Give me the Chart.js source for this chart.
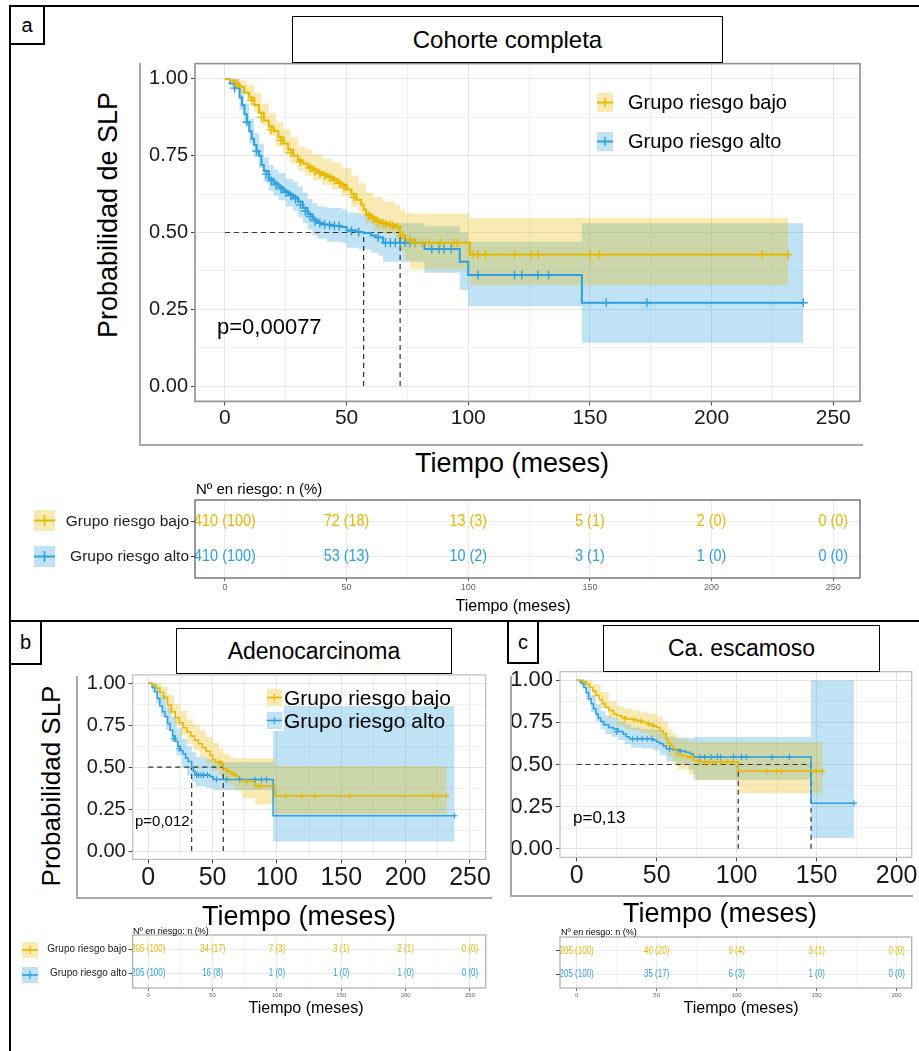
<!DOCTYPE html>
<html>
<head>
<meta charset="utf-8">
<script src="https://cdn.jsdelivr.net/npm/chart.js@4.4.1/dist/chart.umd.min.js"></script>
<style>
body { margin:0; background:#fff; font-family:"Liberation Sans", Arial, sans-serif; }
#fig { position:relative; width:919px; height:1051px; overflow:hidden; background:#fff; }
#fig canvas { position:absolute; }
.ln { position:absolute; background:#000; }
.gl { position:absolute; background:#a8a8a8; }
.box { position:absolute; box-sizing:border-box; border:1.5px solid #000; background:#fff;
       display:flex; align-items:center; justify-content:center; color:#000; white-space:nowrap; }
.txt { position:absolute; white-space:nowrap; color:#000; line-height:1; }
.mid { transform:translate(-50%,-50%); }
.vmid { transform:translateY(-50%); }
.rot { transform:translate(-50%,-50%) rotate(-90deg); }
.key { position:absolute; }
</style>
</head>
<body>
<div id="fig">
  <canvas id="kmA" width="730" height="395" style="left:140px;top:45px"></canvas>
  <canvas id="rtA" width="860" height="115" style="left:20px;top:485px"></canvas>
  <canvas id="kmB" width="415" height="237" style="left:80px;top:656px"></canvas>
  <canvas id="rtB" width="485" height="82" style="left:10px;top:920px"></canvas>
  <canvas id="kmC" width="417" height="240" style="left:505px;top:653px"></canvas>
  <canvas id="rtC" width="397" height="80" style="left:520px;top:922px"></canvas>

  <!-- figure frame -->
  <div class="ln" style="left:9px;top:5px;width:910px;height:2px"></div>
  <div class="ln" style="left:9px;top:5px;width:2px;height:1046px"></div>
  <div class="ln" style="left:9px;top:620px;width:910px;height:2px"></div>

  <!-- grey picture frames -->
  <div class="gl" style="left:139px;top:63px;width:2px;height:383px"></div>
  <div class="gl" style="left:139px;top:444px;width:724px;height:2px"></div>
  <div class="gl" style="left:76px;top:676px;width:2px;height:222px"></div>
  <div class="gl" style="left:76px;top:897px;width:416px;height:2px"></div>
  <div class="gl" style="left:510px;top:676px;width:2px;height:220px"></div>
  <div class="gl" style="left:510px;top:895px;width:403px;height:2px"></div>

  <!-- panel a -->
  <div class="box" style="left:9px;top:5px;width:36px;height:40px;border-width:2px;font-size:20px">a</div>
  <div class="box" style="left:292px;top:16px;width:431px;height:47px;font-size:24px">Cohorte completa</div>
  <div class="txt rot" style="left:108px;top:215px;font-size:27px">Probabilidad de SLP</div>
  <div class="txt mid" style="left:512px;top:463px;font-size:27px">Tiempo (meses)</div>
  <div class="txt vmid" style="left:217px;top:327px;font-size:22px">p=0,00077</div>
  <svg class="key" style="left:597px;top:93px" width="16" height="19"><rect width="16" height="19" fill="rgba(231,184,0,0.3)"/><line x1="0" y1="9.5" x2="16" y2="9.5" stroke="#E7B800" stroke-width="2"/><line x1="8" y1="5" x2="8" y2="14" stroke="#E7B800" stroke-width="1.5"/></svg>
  <svg class="key" style="left:597px;top:132px" width="16" height="19"><rect width="16" height="19" fill="rgba(46,159,223,0.3)"/><line x1="0" y1="9.5" x2="16" y2="9.5" stroke="#2E9FDF" stroke-width="2"/><line x1="8" y1="5" x2="8" y2="14" stroke="#2E9FDF" stroke-width="1.5"/></svg>
  <div class="txt vmid" style="left:628px;top:102px;font-size:20px">Grupo riesgo bajo</div>
  <div class="txt vmid" style="left:628px;top:141px;font-size:20px">Grupo riesgo alto</div>
  <div class="txt vmid" style="left:196px;top:488px;font-size:15px">Nº en riesgo: n (%)</div>
  <svg class="key" style="left:34px;top:510px" width="21" height="21"><rect width="21" height="21" fill="rgba(231,184,0,0.3)"/><line x1="0" y1="10.5" x2="21" y2="10.5" stroke="#E7B800" stroke-width="2"/><line x1="10.5" y1="5" x2="10.5" y2="16" stroke="#E7B800" stroke-width="1.5"/></svg>
  <svg class="key" style="left:34px;top:546px" width="21" height="21"><rect width="21" height="21" fill="rgba(46,159,223,0.3)"/><line x1="0" y1="10.5" x2="21" y2="10.5" stroke="#2E9FDF" stroke-width="2"/><line x1="10.5" y1="5" x2="10.5" y2="16" stroke="#2E9FDF" stroke-width="1.5"/></svg>
  <div class="txt mid" style="left:513px;top:606px;font-size:16px">Tiempo (meses)</div>

  <!-- panel b -->
  <div class="box" style="left:9px;top:620px;width:33px;height:45px;border-width:2px;font-size:20px">b</div>
  <div class="box" style="left:176px;top:628px;width:276px;height:46px;font-size:23px">Adenocarcinoma</div>
  <div class="txt rot" style="left:51px;top:786px;font-size:26px">Probabilidad SLP</div>
  <div class="txt mid" style="left:299px;top:916px;font-size:27px">Tiempo (meses)</div>
  <div class="txt vmid" style="left:135px;top:820px;font-size:15px">p=0,012</div>
  <div style="position:absolute;left:265px;top:687px;width:19px;height:44px;background:#fff"></div>
  <svg class="key" style="left:267px;top:689px" width="15" height="17"><rect width="15" height="17" fill="rgba(231,184,0,0.3)"/><line x1="0" y1="8.5" x2="15" y2="8.5" stroke="#E7B800" stroke-width="1.6"/><line x1="7.5" y1="5" x2="7.5" y2="12" stroke="#E7B800" stroke-width="1.2"/></svg>
  <svg class="key" style="left:267px;top:712px" width="15" height="17"><rect width="15" height="17" fill="rgba(46,159,223,0.3)"/><line x1="0" y1="8.5" x2="15" y2="8.5" stroke="#2E9FDF" stroke-width="1.6"/><line x1="7.5" y1="5" x2="7.5" y2="12" stroke="#2E9FDF" stroke-width="1.2"/></svg>
  <div class="txt vmid" style="left:284px;top:697px;font-size:21px">Grupo riesgo bajo</div>
  <div class="txt vmid" style="left:284px;top:720px;font-size:21px">Grupo riesgo alto</div>
  <div class="txt vmid" style="left:133px;top:931px;font-size:9px">Nº en riesgo: n (%)</div>
  <svg class="key" style="left:22px;top:942px" width="16" height="16"><rect width="16" height="16" fill="rgba(231,184,0,0.3)"/><line x1="0" y1="8" x2="16" y2="8" stroke="#E7B800" stroke-width="1.6"/><line x1="8" y1="4" x2="8" y2="12" stroke="#E7B800" stroke-width="1.2"/></svg>
  <svg class="key" style="left:22px;top:967px" width="16" height="16"><rect width="16" height="16" fill="rgba(46,159,223,0.3)"/><line x1="0" y1="8" x2="16" y2="8" stroke="#2E9FDF" stroke-width="1.6"/><line x1="8" y1="4" x2="8" y2="12" stroke="#2E9FDF" stroke-width="1.2"/></svg>
  <div class="txt mid" style="left:306px;top:1008px;font-size:16px">Tiempo (meses)</div>

  <!-- panel c -->
  <div class="box" style="left:507px;top:620px;width:32px;height:44px;border-width:2px;font-size:20px">c</div>
  <div class="box" style="left:603px;top:625px;width:277px;height:47px;font-size:23px">Ca. escamoso</div>
  <div class="txt mid" style="left:720px;top:913px;font-size:27px">Tiempo (meses)</div>
  <div class="txt vmid" style="left:573px;top:817px;font-size:17px">p=0,13</div>
  <div class="txt vmid" style="left:561px;top:932px;font-size:9px">Nº en riesgo: n (%)</div>
  <div class="txt mid" style="left:741px;top:1008px;font-size:16px">Tiempo (meses)</div>
</div>

<script>
// colours (survminer default pair)
const GOLD = '#E7B800', BLUE = '#2E9FDF';
const GOLD_F = 'rgba(231,184,0,0.3)', BLUE_F = 'rgba(46,159,223,0.3)';
const FONT = '"Liberation Sans", Arial, sans-serif';

// axes
const xTicksA = [0, 50, 100, 150, 200, 250];
const xGridA = [0, 25, 50, 75, 100, 125, 150, 175, 200, 225, 250];
const xTicksC = [0, 50, 100, 150, 200];
const xGridC = [0, 25, 50, 75, 100, 125, 150, 175, 200];
const yTicks = [0, 0.25, 0.5, 0.75, 1];
const yGrid = [0, 0.125, 0.25, 0.375, 0.5, 0.625, 0.75, 0.875, 1];
const groups = ['Grupo riesgo bajo', 'Grupo riesgo alto'];

// ---- a: Cohorte completa  (curve [t, S], band [t, low, high], censored [t, S])
const aBajo = [[0,1],[2,0.995],[4,0.985],[6,0.975],[8,0.955],[10,0.94],[12,0.915],[14,0.89],[16,0.865],[18,0.845],[20,0.83],[22,0.81],[24,0.79],[26,0.77],[28,0.75],[30,0.735],[32,0.725],[34,0.715],[36,0.705],[38,0.697],[40,0.69],[42,0.683],[44,0.675],[46,0.665],[48,0.655],[50,0.64],[52,0.625],[54,0.607],[56,0.59],[57,0.575],[58,0.56],[60,0.55],[62,0.538],[64,0.532],[67,0.525],[70,0.518],[72,0.49],[74,0.476],[78,0.467],[100.7,0.428],[231.5,0.428]];
const aBajoBand = [[0,1,1],[3,0.985,1],[6,0.955,0.995],[9,0.93,0.98],[12,0.89,0.955],[15,0.85,0.92],[18,0.815,0.89],[21,0.78,0.86],[24,0.755,0.835],[27,0.725,0.81],[30,0.7,0.78],[33,0.685,0.77],[36,0.67,0.755],[40,0.655,0.74],[44,0.64,0.728],[48,0.62,0.71],[52,0.585,0.685],[55,0.56,0.66],[58,0.53,0.63],[61,0.505,0.615],[65,0.495,0.6],[70,0.47,0.59],[72,0.44,0.575],[74,0.41,0.565],[76,0.38,0.562],[100.7,0.329,0.547],[231.5,0.329,0.547]];
const aBajoCens = [[5,0.98],[11,0.93],[15,0.875],[19,0.835],[23,0.8],[27,0.76],[31,0.73],[35,0.71],[37,0.7],[39,0.693],[41,0.686],[43,0.68],[45,0.67],[47,0.66],[49,0.648],[53,0.615],[59,0.555],[61,0.545],[63,0.535],[65,0.53],[66,0.528],[68,0.525],[69,0.522],[71,0.518],[73,0.49],[76,0.476],[78,0.467],[81,0.467],[84,0.467],[88.5,0.467],[94,0.467],[95.5,0.467],[102,0.428],[104,0.428],[107,0.428],[119,0.428],[126,0.428],[128.7,0.428],[150,0.428],[153.8,0.428],[220.7,0.428],[231.5,0.428]];
const aAlto = [[0,1],[2,0.985],[4,0.97],[6,0.94],[7,0.915],[8,0.885],[9,0.86],[10,0.83],[11,0.805],[12,0.785],[13,0.765],[14,0.75],[15,0.72],[16,0.7],[18,0.675],[20,0.66],[22,0.648],[24,0.635],[26,0.625],[28,0.615],[30,0.6],[32,0.58],[34,0.56],[36,0.543],[38,0.532],[40,0.526],[44,0.522],[48,0.518],[50,0.507],[54,0.502],[57,0.498],[60,0.49],[62,0.484],[65,0.467],[82,0.446],[96.5,0.405],[100,0.362],[146.7,0.271],[237.7,0.271]];
const aAltoBand = [[0,1,1],[3,0.97,1],[6,0.9,0.97],[8,0.85,0.92],[10,0.79,0.87],[12,0.745,0.825],[14,0.71,0.79],[16,0.665,0.745],[18,0.635,0.72],[20,0.62,0.705],[22,0.605,0.693],[25,0.585,0.675],[28,0.57,0.665],[30,0.55,0.65],[32,0.53,0.63],[34,0.51,0.61],[36,0.49,0.595],[38,0.48,0.585],[42,0.47,0.58],[48,0.465,0.575],[50,0.45,0.565],[55,0.445,0.56],[60,0.435,0.55],[63,0.425,0.545],[65,0.405,0.53],[82,0.369,0.52],[96.5,0.313,0.5],[100,0.26,0.47],[146.7,0.141,0.53],[237.7,0.141,0.53]];
const aAltoCens = [[4,0.97],[9,0.86],[13,0.765],[17,0.69],[19,0.668],[21,0.655],[23,0.642],[25,0.63],[27,0.62],[29,0.61],[31,0.59],[33,0.57],[35,0.552],[37,0.537],[39,0.53],[41,0.526],[43,0.524],[45,0.522],[47,0.52],[52,0.505],[55,0.502],[63,0.484],[66,0.467],[68,0.467],[70,0.467],[72,0.467],[74,0.467],[76,0.467],[78,0.467],[85,0.446],[88,0.446],[90,0.446],[93,0.446],[104,0.362],[119,0.362],[122,0.362],[128.6,0.362],[133,0.362],[156.7,0.271],[173.4,0.271],[237.7,0.271]];
const aMedian = [72, 57];
const riskTimesA = [0, 50, 100, 150, 200, 250];
const riskA = [['410 (100)','72 (18)','13 (3)','5 (1)','2 (0)','0 (0)'], ['410 (100)','53 (13)','10 (2)','3 (1)','1 (0)','0 (0)']];

// ---- b: Adenocarcinoma
const bBajo = [[0,1],[3,0.99],[6,0.97],[9,0.945],[12,0.915],[15,0.87],[18,0.83],[21,0.795],[24,0.765],[27,0.735],[30,0.71],[33,0.685],[36,0.66],[39,0.64],[42,0.615],[45,0.595],[48,0.57],[50,0.545],[52,0.532],[57,0.523],[58.3,0.49],[61,0.475],[64,0.46],[67,0.45],[70,0.43],[73,0.415],[83,0.388],[98.4,0.33],[231.8,0.33]];
const bBajoBand = [[0,1,1],[5,0.96,1],[10,0.9,0.98],[15,0.82,0.93],[20,0.75,0.88],[25,0.69,0.835],[30,0.64,0.785],[35,0.6,0.75],[40,0.56,0.72],[45,0.52,0.68],[50,0.48,0.645],[55,0.45,0.61],[58.3,0.41,0.58],[63,0.39,0.56],[67,0.36,0.553],[73,0.314,0.553],[83,0.278,0.553],[98.4,0.22,0.507],[231.8,0.22,0.507]];
const bBajoCens = [[55,0.532],[56.5,0.523],[62,0.475],[66,0.46],[68,0.45],[77,0.415],[85,0.388],[87,0.388],[107,0.33],[119,0.33],[129.5,0.33],[156.7,0.33],[221,0.33],[231.8,0.33]];
const bAlto = [[0,1],[3,0.975],[5,0.95],[7,0.91],[9,0.865],[11,0.83],[13,0.8],[15,0.76],[17,0.72],[19,0.685],[21,0.655],[23,0.625],[25,0.6],[27,0.58],[29,0.555],[31,0.533],[33.7,0.5],[35,0.475],[36.3,0.453],[48,0.443],[50.5,0.427],[97,0.21],[238,0.21]];
const bAltoBand = [[0,1,1],[3,0.95,1],[6,0.88,0.98],[10,0.8,0.93],[14,0.72,0.86],[18,0.65,0.8],[22,0.57,0.73],[26,0.5,0.67],[30,0.45,0.625],[34,0.41,0.59],[37,0.385,0.56],[45,0.375,0.55],[50.5,0.364,0.53],[97,0.056,0.865],[238,0.056,0.865]];
const bAltoCens = [[20,0.67],[24,0.61],[37.5,0.453],[39,0.453],[41,0.453],[43,0.453],[46,0.453],[53,0.427],[61,0.427],[71,0.427],[83,0.427],[88,0.427],[92,0.427],[238,0.21]];
const bMedian = [58.3, 33.7];
const riskB = [['205 (100)','34 (17)','7 (3)','3 (1)','2 (1)','0 (0)'], ['205 (100)','16 (8)','1 (0)','1 (0)','1 (0)','0 (0)']];

// ---- c: Ca. escamoso
const cBajo = [[0,1],[4,0.99],[6,0.975],[8,0.96],[10,0.935],[12,0.91],[14,0.885],[16,0.86],[18,0.84],[20,0.82],[23,0.8],[25,0.79],[28,0.78],[31,0.77],[35,0.765],[38,0.758],[41,0.75],[44,0.74],[47,0.73],[50,0.72],[52,0.7],[54,0.683],[56,0.65],[57.3,0.624],[59,0.61],[60.4,0.594],[62.5,0.554],[68.8,0.545],[73,0.525],[77,0.515],[101,0.461],[153.7,0.461]];
const cBajoBand = [[0,1,1],[5,0.97,1],[10,0.9,0.975],[15,0.83,0.93],[20,0.77,0.875],[25,0.73,0.845],[30,0.71,0.83],[35,0.7,0.82],[40,0.685,0.81],[45,0.665,0.8],[50,0.645,0.785],[54,0.6,0.755],[57,0.55,0.71],[60,0.51,0.68],[63,0.47,0.65],[70,0.44,0.64],[75,0.406,0.634],[101,0.33,0.634],[153.7,0.33,0.634]];
const cBajoCens = [[30,0.77],[36,0.765],[40,0.758],[45,0.74],[48,0.73],[66,0.554],[71,0.545],[77,0.515],[80,0.515],[83,0.515],[86,0.515],[90,0.515],[94,0.515],[98,0.515],[118.75,0.461],[125,0.461],[128,0.461],[149.6,0.461],[153.7,0.461]];
const cAlto = [[0,1],[2,0.99],[3,0.98],[4.5,0.955],[6,0.925],[7.5,0.89],[9,0.86],[10.5,0.83],[12,0.8],[13.5,0.775],[15,0.755],[17,0.735],[20,0.72],[23,0.71],[26,0.695],[29,0.68],[31,0.665],[33,0.653],[48,0.644],[50,0.634],[52,0.624],[54,0.61],[56,0.594],[60,0.587],[64.6,0.58],[68,0.572],[70.8,0.564],[73,0.545],[146.5,0.271],[173.3,0.271]];
const cAltoBand = [[0,1,1],[3,0.96,1],[6,0.88,0.97],[9,0.81,0.91],[12,0.755,0.86],[15,0.71,0.815],[18,0.68,0.79],[22,0.665,0.775],[26,0.645,0.755],[30,0.62,0.74],[34,0.6,0.72],[40,0.595,0.71],[48,0.585,0.705],[52,0.555,0.69],[56,0.52,0.665],[62,0.5,0.66],[70,0.47,0.655],[73,0.41,0.663],[146.5,0.065,1],[173.3,0.065,1]];
const cAltoCens = [[25,0.695],[35,0.653],[38,0.653],[41,0.653],[44,0.653],[47,0.653],[58,0.594],[64.6,0.58],[77,0.545],[80,0.545],[84,0.545],[88,0.545],[90,0.545],[98,0.545],[103,0.545],[106,0.545],[122,0.545],[133,0.545],[173.3,0.271]];
const cMedian = [101, 146.5];
const riskTimesC = [0, 50, 100, 150, 200];
const riskC = [['205 (100)','40 (20)','9 (4)','3 (1)','0 (0)'], ['205 (100)','35 (17)','6 (3)','1 (0)','0 (0)']];

Chart.defaults.font.family = FONT;

// box round the plotting area
const frame = {
  id: 'frame',
  afterDraw(chart, args, o) {
    const a = chart.chartArea, ctx = chart.ctx;
    ctx.save();
    ctx.strokeStyle = o.color;
    ctx.lineWidth = o.width;
    ctx.strokeRect(a.left, a.top, a.right - a.left, a.bottom - a.top);
    ctx.restore();
  }
};

// numbers at risk, placed on the table's own scales (narrow text like the original)
const riskText = {
  id: 'riskText',
  afterDatasetsDraw(chart, args, o) {
    const ctx = chart.ctx, xs = chart.scales.x, ys = chart.scales.y;
    ctx.save();
    ctx.font = o.size + 'px ' + FONT;
    ctx.textAlign = 'center';
    ctx.textBaseline = 'middle';
    o.rows.forEach((vals, r) => {
      ctx.fillStyle = r === 0 ? GOLD : BLUE;
      vals.forEach((v, i) => {
        ctx.save();
        ctx.translate(xs.getPixelForValue(o.times[i]), ys.getPixelForValue(2 - r));
        ctx.scale(o.sx, 1);
        ctx.fillText(v, 0, 0);
        ctx.restore();
      });
    });
    ctx.restore();
  }
};

const pts = arr => arr.map(p => ({x: p[0], y: p[1]}));

function kmChart(id, g, groupsData, median) {
  const sets = [];
  groupsData.forEach(([curve, band, cens], k) => {
    const col = k === 0 ? GOLD : BLUE, fillCol = k === 0 ? GOLD_F : BLUE_F;
    sets.push({ data: band.map(p => ({x: p[0], y: p[1]})), showLine: true, stepped: true, borderWidth: 0, borderColor: 'transparent', pointRadius: 0, fill: false, order: 6 });
    sets.push({ data: band.map(p => ({x: p[0], y: p[2]})), showLine: true, stepped: true, borderWidth: 0, borderColor: 'transparent', pointRadius: 0, fill: '-1', backgroundColor: fillCol, order: 6 });
    sets.push({ data: pts(curve), showLine: true, stepped: true, borderColor: col, borderWidth: g.lw, pointRadius: 0, fill: false, order: 2 });
    sets.push({ data: pts(cens), showLine: false, pointStyle: 'cross', pointRadius: g.cr, borderColor: col, borderWidth: g.cw, order: 1 });
  });
  const dash = { showLine: true, borderColor: '#333', borderWidth: 1.2, borderDash: [5, 4], pointRadius: 0, fill: false, order: 3 };
  sets.push(Object.assign({ data: [{x: 0, y: 0.5}, {x: Math.max(...median), y: 0.5}] }, dash));
  median.forEach(m => sets.push(Object.assign({ data: [{x: m, y: 0}, {x: m, y: 0.5}] }, dash)));

  new Chart(document.getElementById(id), {
    type: 'scatter',
    data: { datasets: sets },
    options: {
      responsive: false, animation: false, events: [],
      layout: { padding: g.pad, autoPadding: false },
      plugins: { legend: { display: false }, tooltip: { enabled: false }, frame: { color: g.frame, width: g.fw } },
      scales: {
        x: {
          type: 'linear', min: g.xmin, max: g.xmax,
          afterBuildTicks: s => { s.ticks = g.xGrid.map(v => ({value: v})); },
          afterFit: s => { s.height = g.xh; },
          ticks: { autoSkip: false, maxRotation: 0, padding: 0, color: '#1a1a1a', font: { size: g.xfs },
                   callback: v => g.xTicks.includes(v) ? String(v) : '' },
          grid: { color: c => g.xTicks.includes(c.tick.value) ? '#e4e4e4' : '#f0f0f0', tickLength: 4,
                  tickColor: c => g.xTicks.includes(c.tick.value) ? '#444' : 'transparent' },
          border: { display: false }
        },
        y: {
          type: 'linear', min: -0.05, max: 1.05,
          afterBuildTicks: s => { s.ticks = yGrid.map(v => ({value: v})); },
          afterFit: s => { s.width = g.yw; },
          ticks: { autoSkip: false, padding: 3, color: '#1a1a1a', font: { size: g.yfs },
                   callback: v => yTicks.includes(v) ? v.toFixed(2) : '' },
          grid: { color: c => yTicks.includes(c.tick.value) ? '#e4e4e4' : '#f0f0f0', tickLength: 4,
                  tickColor: c => yTicks.includes(c.tick.value) ? '#444' : 'transparent' },
          border: { display: false }
        }
      }
    },
    plugins: [frame]
  });
}

function riskChart(id, g, rows, times) {
  new Chart(document.getElementById(id), {
    type: 'scatter',
    data: { datasets: [{ data: [] }] },
    options: {
      responsive: false, animation: false, events: [],
      layout: { padding: g.pad, autoPadding: false },
      plugins: { legend: { display: false }, tooltip: { enabled: false },
                 frame: { color: g.frame, width: 1.2 }, riskText: { rows: rows, times: times, size: g.vfs, sx: g.sx } },
      scales: {
        x: {
          type: 'linear', min: g.xmin, max: g.xmax,
          afterBuildTicks: s => { s.ticks = g.xGrid.map(v => ({value: v})); },
          afterFit: s => { s.height = g.xh; },
          ticks: { autoSkip: false, maxRotation: 0, padding: 1, color: '#666', font: { size: g.tfs },
                   callback: v => g.xTicks.includes(v) ? String(v) : '' },
          grid: { color: c => g.xTicks.includes(c.tick.value) ? '#ebebeb' : '#f4f4f4', tickLength: 3,
                  tickColor: c => g.xTicks.includes(c.tick.value) ? '#666' : 'transparent' },
          border: { display: false }
        },
        y: {
          type: 'linear', min: 0.4, max: 2.6,
          afterBuildTicks: s => { s.ticks = [{value: 1}, {value: 2}]; },
          afterFit: s => { s.width = g.yw; },
          ticks: { autoSkip: false, padding: 2, color: '#222', font: { size: g.lfs },
                   callback: v => g.labels ? groups[2 - v] : '' },
          grid: { color: '#ececec', tickLength: 4, tickColor: '#444' },
          border: { display: false }
        }
      }
    },
    plugins: [frame, riskText]
  });
}

kmChart('kmA', { pad: {left: 0, top: 18.6, right: 10, bottom: 0}, yw: 55, xh: 38.6, xmin: -12.3, xmax: 261,
  xTicks: xTicksA, xGrid: xGridA, xfs: 21, yfs: 20, lw: 2, cr: 4.5, cw: 1.4, frame: '#8f8f8f', fw: 1.6 },
  [[aBajo, aBajoBand, aBajoCens], [aAlto, aAltoBand, aAltoCens]], aMedian);

kmChart('kmB', { pad: {left: 0, top: 18.9, right: 9.3, bottom: 0}, yw: 52.7, xh: 33.6, xmin: -12.1, xmax: 262.2,
  xTicks: xTicksA, xGrid: xGridA, xfs: 25, yfs: 20, lw: 1.5, cr: 3, cw: 1.1, frame: '#bdbdbd', fw: 1.2 },
  [[bBajo, bBajoBand, bBajoCens], [bAlto, bAltoBand, bAltoCens]], bMedian);

kmChart('kmC', { pad: {left: 0, top: 18.7, right: 10.3, bottom: 0}, yw: 55, xh: 35.7, xmin: -10.4, xmax: 209.4,
  xTicks: xTicksC, xGrid: xGridC, xfs: 25, yfs: 22, lw: 1.5, cr: 3, cw: 1.1, frame: '#bdbdbd', fw: 1.2 },
  [[cBajo, cBajoBand, cBajoCens], [cAlto, cAltoBand, cAltoCens]], cMedian);

riskChart('rtA', { pad: {left: 0, top: 15, right: 20, bottom: 0}, yw: 175, xh: 22, xmin: -12.3, xmax: 261,
  xTicks: xTicksA, xGrid: xGridA, tfs: 9, lfs: 15.5, vfs: 16, sx: 0.9, labels: true, frame: '#555' }, riskA, riskTimesA);

riskChart('rtB', { pad: {left: 0, top: 15, right: 9.3, bottom: 0}, yw: 122.7, xh: 14, xmin: -12.1, xmax: 262.2,
  xTicks: xTicksA, xGrid: xGridA, tfs: 6, lfs: 10, vfs: 10, sx: 0.8, labels: true, frame: '#aaa' }, riskB, riskTimesA);

riskChart('rtC', { pad: {left: 0, top: 15, right: 5.3, bottom: 0}, yw: 40, xh: 14, xmin: -10.4, xmax: 209.4,
  xTicks: xTicksC, xGrid: xGridC, tfs: 6, lfs: 10, vfs: 10, sx: 0.8, labels: false, frame: '#aaa' }, riskC, riskTimesC);
</script>
</body>
</html>
